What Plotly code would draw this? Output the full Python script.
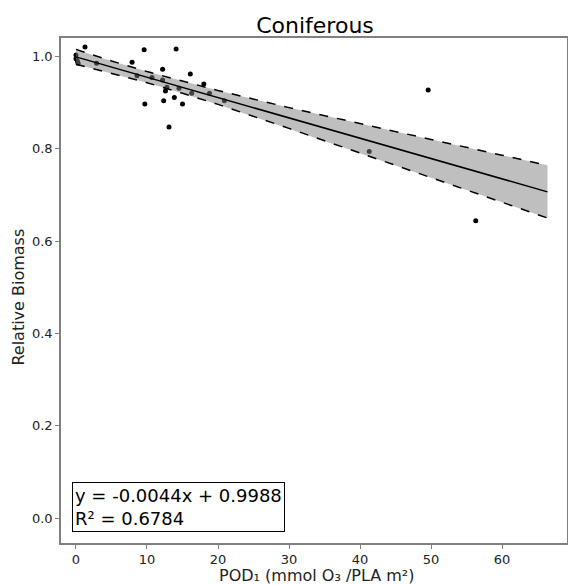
import plotly.graph_objects as go

# Observed data (POD1 vs relative biomass)
pod_x = [0, 0, 0.2, 0.3, 1.27, 2.9, 7.9, 8.6, 9.6, 9.7, 10.7, 12.2, 12.2, 12.35,
         12.6, 12.8, 13.1, 13.85, 14.1, 14.5, 15.0, 16.1, 16.3, 18.0, 18.8, 20.9,
         41.3, 49.6, 56.3]
biomass_y = [1.003, 0.995, 0.99, 0.985, 1.02, 0.985, 0.987, 0.958, 1.014, 0.897,
             0.954, 0.972, 0.949, 0.904, 0.925, 0.933, 0.847, 0.911, 1.016, 0.931,
             0.897, 0.962, 0.92, 0.940, 0.920, 0.904, 0.794, 0.927, 0.644]

# Fit line and confidence band
band_x = [0, 5, 10, 15, 20, 30, 40, 50, 60, 66.4]
fit_y = [0.9988, 0.9768, 0.9548, 0.9328, 0.9108, 0.8668, 0.8228, 0.7788, 0.7348, 0.7066]
upper_y = [1.015, 0.990, 0.967, 0.946, 0.926, 0.889, 0.854, 0.820, 0.786, 0.764]
lower_y = [0.983, 0.963, 0.943, 0.920, 0.896, 0.844, 0.791, 0.738, 0.684, 0.650]

x_ticks = [0, 10, 20, 30, 40, 50, 60]
y_ticks = [0.0, 0.2, 0.4, 0.6, 0.8, 1.0]

FONT = "DejaVu Sans"

fig = go.Figure()

fig.add_trace(go.Scatter(x=pod_x, y=biomass_y, mode="markers",
                         marker=dict(color="black", size=5), showlegend=False))

fig.add_trace(go.Scatter(x=band_x + band_x[::-1], y=upper_y + lower_y[::-1],
                         mode="lines", fill="toself",
                         fillcolor="rgba(128,128,128,0.5)",
                         line=dict(width=0), showlegend=False, hoverinfo="skip"))

fig.add_trace(go.Scatter(x=band_x, y=upper_y, mode="lines",
                         line=dict(color="black", width=1.5, dash="dash"), showlegend=False))
fig.add_trace(go.Scatter(x=band_x, y=lower_y, mode="lines",
                         line=dict(color="black", width=1.5, dash="dash"), showlegend=False))
fig.add_trace(go.Scatter(x=band_x, y=fit_y, mode="lines",
                         line=dict(color="black", width=1.5), showlegend=False))

fig.add_annotation(xref="paper", yref="paper", x=0.022, y=0.021,
                   xanchor="left", yanchor="bottom", align="left",
                   text="y = -0.0044x + 0.9988<br>R² = 0.6784",
                   showarrow=False, bordercolor="black", borderwidth=1,
                   borderpad=2, bgcolor="white",
                   font=dict(family=FONT, size=18, color="black"))

# Axis titles as annotations for exact placement
fig.add_annotation(xref="paper", yref="paper", x=0.504, y=-0.064,
                   xanchor="center", yanchor="middle", showarrow=False,
                   text="POD₁ (mmol O₃ /PLA m²)",
                   font=dict(family=FONT, size=16, color="#222222"))
fig.add_annotation(xref="paper", yref="paper", x=-0.0844, y=0.4865,
                   xanchor="center", yanchor="middle", showarrow=False,
                   text="Relative Biomass", textangle=-90,
                   font=dict(family=FONT, size=16, color="#222222"))

axis_common = dict(showgrid=False, zeroline=False, showline=True, mirror=True,
                   linecolor="#808080", linewidth=1.5, ticks="outside",
                   ticklen=4, tickcolor="#808080", automargin=False,
                   tickfont=dict(family=FONT, size=13, color="#222222"))

fig.update_xaxes(range=[-2.11, 69.15], tickvals=x_ticks, **axis_common)
fig.update_yaxes(range=[-0.0535, 1.0397], tickvals=y_ticks, tickformat=".1f",
                 **axis_common)

fig.update_layout(
    width=568, height=585,
    margin=dict(l=61, r=1, t=38, b=42, autoexpand=False),
    paper_bgcolor="white", plot_bgcolor="white",
    title=dict(text="Coniferous", x=0.5546, xanchor="center", y=0.9566, yanchor="middle",
               font=dict(family=FONT, size=22, color="black")),
)

fig.write_html("out.html", config={"displayModeBar": False},
               post_script="document.body.style.margin='0';document.body.style.overflow='hidden';")
